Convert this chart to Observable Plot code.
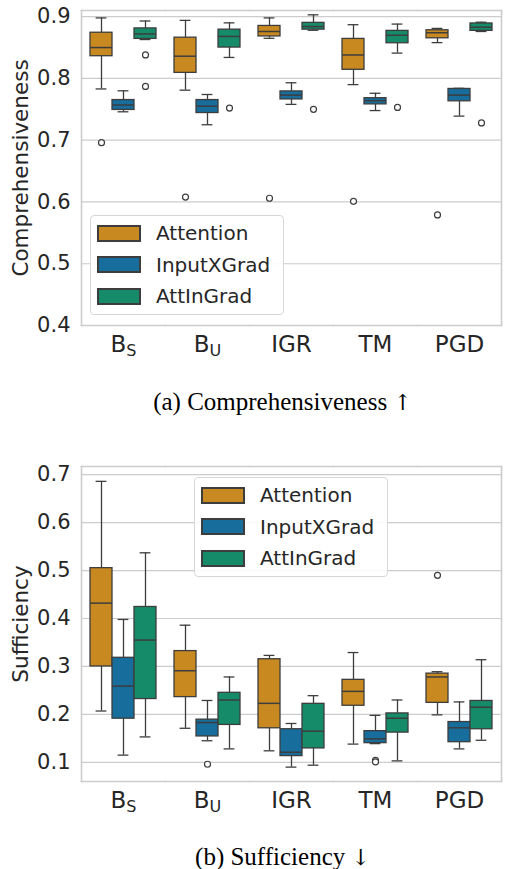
<!DOCTYPE html>
<html><head><meta charset="utf-8">
<script src="https://cdn.jsdelivr.net/npm/d3@7"></script>
<script src="https://cdn.jsdelivr.net/npm/@observablehq/plot@0.6"></script>
<style>
html,body{margin:0;padding:0;background:#fff;}
body{width:509px;height:869px;position:relative;overflow:hidden;font-family:"DejaVu Sans";}
.panel{position:absolute;left:0;}
.cap{position:absolute;left:28px;width:509px;text-align:center;font-family:"Liberation Serif","DejaVu Serif";font-size:25px;color:#000;line-height:1;}
.cap .arr{font-family:"DejaVu Serif";font-size:22px;color:#000;}
.leg{position:absolute;border:1px solid #d8d8d8;border-radius:4px;background:rgba(255,255,255,0.85);box-sizing:border-box;padding:2px 0 0 7px;}
.leg > div{font-family:"DejaVu Sans" !important;font-size:20px !important;color:#262626 !important;margin:0 !important;}
.lg-swatch{margin:0 !important;height:30.5px !important;display:flex !important;align-items:center !important;}
.lg-swatch svg{margin-right:16px !important;}
.lg-swatch svg rect{stroke:#3d3d3d;stroke-width:2px;}
</style>
</head><body>
<div id="p1" class="panel" style="top:0"></div>
<div id="cap1" class="cap" style="top:389px">(a) Comprehensiveness <span class="arr">↑</span></div>
<div id="p2" class="panel" style="top:430px"></div>
<div id="cap2" class="cap" style="top:844px">(b) Sufficiency <span class="arr">↓</span></div>
<script>
const datasets = ["BS", "BU", "IGR", "TM", "PGD"];
const methods = ["Attention", "InputXGrad", "AttInGrad"];
const colors = ["#c98921", "#176d9c", "#158b69"];

// Comprehensiveness — rows: methods, columns: datasets
const compHi  = [[0.898, 0.894, 0.898, 0.887, 0.881], [0.780, 0.774, 0.793, 0.776, 0.784], [0.893, 0.890, 0.903, 0.888, 0.891]];
const compQ3  = [[0.874, 0.866, 0.885, 0.864, 0.878], [0.765, 0.765, 0.779, 0.768, 0.783], [0.881, 0.879, 0.890, 0.877, 0.889]];
const compMed = [[0.850, 0.836, 0.876, 0.838, 0.874], [0.757, 0.755, 0.773, 0.764, 0.773], [0.872, 0.868, 0.884, 0.870, 0.883]];
const compQ1  = [[0.836, 0.809, 0.868, 0.814, 0.865], [0.749, 0.744, 0.766, 0.758, 0.763], [0.864, 0.850, 0.879, 0.857, 0.877]];
const compLo  = [[0.783, 0.781, 0.865, 0.790, 0.858], [0.746, 0.725, 0.758, 0.748, 0.739], [0.863, 0.834, 0.878, 0.841, 0.876]];
const compOut = [[[0.696], [0.608], [0.606], [0.601], [0.579]], [[], [], [], [], []], [[0.838, 0.787], [0.752], [0.750], [0.753], [0.728]]];
const compTicks = [0.4, 0.5, 0.6, 0.7, 0.8, 0.9];

// Sufficiency — rows: methods, columns: datasets
const suffHi  = [[0.686, 0.386, 0.323, 0.329, 0.289], [0.398, 0.229, 0.181, 0.198, 0.226], [0.537, 0.278, 0.239, 0.230, 0.314]];
const suffQ3  = [[0.505, 0.332, 0.315, 0.272, 0.285], [0.318, 0.189, 0.169, 0.165, 0.184], [0.424, 0.245, 0.222, 0.202, 0.228]];
const suffMed = [[0.432, 0.291, 0.223, 0.248, 0.278], [0.259, 0.183, 0.121, 0.149, 0.172], [0.355, 0.230, 0.165, 0.192, 0.215]];
const suffQ1  = [[0.300, 0.236, 0.171, 0.218, 0.224], [0.191, 0.154, 0.113, 0.140, 0.142], [0.232, 0.178, 0.129, 0.162, 0.169]];
const suffLo  = [[0.207, 0.171, 0.124, 0.138, 0.199], [0.115, 0.145, 0.090, 0.139, 0.128], [0.153, 0.128, 0.094, 0.103, 0.146]];
const suffOut = [[[], [], [], [], [0.490]], [[], [0.096], [], [0.104, 0.101], []], [[], [], [], [], []]];
const suffTicks = [0.1, 0.2, 0.3, 0.4, 0.5, 0.6, 0.7];

function buildRows(hi, q3, med, q1, lo) {
  const rows = [];
  methods.forEach((m, i) => datasets.forEach((d, j) => rows.push({dataset: d, method: m, hi: hi[i][j], q3: q3[i][j], med: med[i][j], q1: q1[i][j], lo: lo[i][j]})));
  return rows;
}
function buildOut(out) {
  const rows = [];
  methods.forEach((m, i) => datasets.forEach((d, j) => out[i][j].forEach(v => rows.push({dataset: d, method: m, value: v}))));
  return rows;
}

const ink = "#3d3d3d";
const grid = "#cccccc";

function panel(rows, outs, domain, ticks, label, marginTop, height) {
  return Plot.plot({
    width: 509,
    height,
    marginLeft: 79,
    marginRight: 7,
    marginTop,
    marginBottom: 40,
    style: {fontFamily: "DejaVu Sans", color: "#262626", background: "transparent", overflow: "visible"},
    fx: {domain: datasets, padding: 0, label: null},
    x: {domain: methods, paddingInner: 0, paddingOuter: 0.375, axis: null},
    y: {domain, label: null},
    color: {domain: methods, range: colors},
    marks: [
      Plot.gridY(ticks, {stroke: grid, strokeOpacity: 1, strokeWidth: 1.2}),
      Plot.frame({anchor: "top", stroke: grid, strokeWidth: 1.6}),
      Plot.frame({anchor: "bottom", stroke: grid, strokeWidth: 1.6}),
      Plot.frame({anchor: "left", stroke: grid, strokeWidth: 1.6, fx: datasets[0]}),
      Plot.frame({anchor: "right", stroke: grid, strokeWidth: 1.6, fx: datasets[datasets.length - 1]}),
      Plot.ruleX(rows, {fx: "dataset", x: "method", y1: "lo", y2: "q1", stroke: ink, strokeWidth: 1.3}),
      Plot.ruleX(rows, {fx: "dataset", x: "method", y1: "q3", y2: "hi", stroke: ink, strokeWidth: 1.3}),
      Plot.tickY(rows, {fx: "dataset", x: "method", y: "lo", stroke: ink, strokeWidth: 1.3, inset: 5.6}),
      Plot.tickY(rows, {fx: "dataset", x: "method", y: "hi", stroke: ink, strokeWidth: 1.3, inset: 5.6}),
      Plot.barY(rows, {fx: "dataset", x: "method", y1: "q1", y2: "q3", fill: "method", stroke: ink, strokeWidth: 1.3, inset: 0}),
      Plot.tickY(rows, {fx: "dataset", x: "method", y: "med", stroke: ink, strokeWidth: 1.5}),
      Plot.dot(outs, {fx: "dataset", x: "method", y: "value", r: 3, fill: "white", stroke: ink, strokeWidth: 1.2}),
      Plot.axisY(ticks, {tickSize: 0, tickPadding: 11, fontSize: 21, tickFormat: d3.format(".1f"), label, labelAnchor: "center", labelArrow: "none", labelOffset: 69}),
      Plot.axisFx({anchor: "bottom", tickSize: 0, tickPadding: 10, fontSize: 23, label: null})
    ]
  });
}

function subscriptLabels(svg) {
  const subs = {BS: "S", BU: "U"};
  svg.querySelectorAll("text").forEach(t => {
    const s = t.textContent;
    if (subs[s]) {
      t.textContent = "B";
      const ts = document.createElementNS("http://www.w3.org/2000/svg", "tspan");
      ts.setAttribute("font-size", "16");
      ts.setAttribute("dy", "4");
      ts.textContent = subs[s];
      t.appendChild(ts);
    }
  });
}

function fixLabel(svg, size) {
  const g = svg.querySelector("[aria-label='y-axis label']");
  if (g) g.setAttribute("font-size", size);
}

function legendBox(left, top) {
  const wrap = document.createElement("div");
  wrap.className = "leg";
  wrap.style.left = left + "px";
  wrap.style.top = top + "px";
  wrap.style.width = "194px";
  wrap.style.height = "100px";
  wrap.appendChild(Plot.legend({color: {domain: methods, range: colors}, legend: "swatches", columns: 1, swatchWidth: 42, swatchHeight: 15, className: "lg"}));
  document.body.appendChild(wrap);
}

const p1 = panel(buildRows(compHi, compQ3, compMed, compQ1, compLo), buildOut(compOut), [0.4, 0.91], compTicks, "Comprehensiveness", 10, 365);
const p2 = panel(buildRows(suffHi, suffQ3, suffMed, suffQ1, suffLo), buildOut(suffOut), [0.06, 0.717], suffTicks, "Sufficiency", 36, 391);
[p1, p2].forEach(p => { subscriptLabels(p); fixLabel(p, 21.5); });
document.getElementById("p1").appendChild(p1);
document.getElementById("p2").appendChild(p2);
legendBox(90, 215);
legendBox(194, 477);
</script>
</body></html>
